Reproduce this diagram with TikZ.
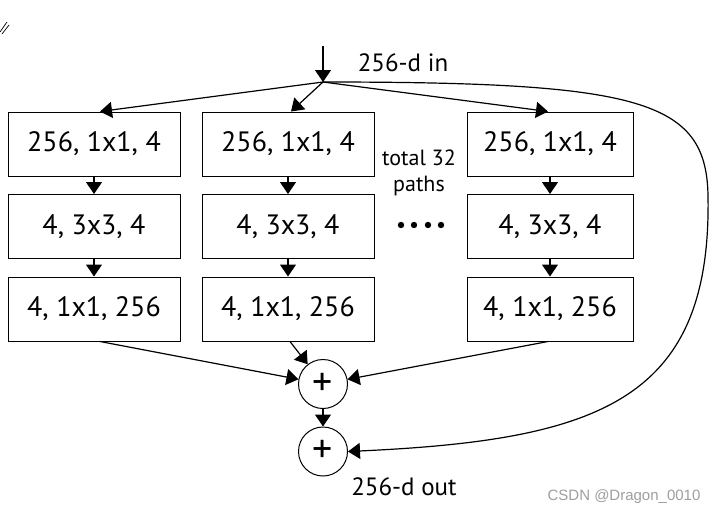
\documentclass[tikz,border=0pt]{standalone}
\usepackage{fontspec}
\setmainfont{PT Sans}
\newfontfamily\wmfont{Liberation Sans}
\usetikzlibrary{arrows.meta}
\begin{document}
\begin{tikzpicture}[x=1pt,y=-1pt,
  line width=1.2pt,
  blk/.style={draw, line width=1pt, minimum width=172pt, minimum height=64pt, inner sep=0pt, font=\fontsize{28}{30}\selectfont},
  blkr/.style={blk, minimum width=166pt},
  sumnode/.style={draw, line width=1pt, circle, minimum size=49pt, inner sep=0pt, font=\fontsize{40}{40}\selectfont},
  arr/.style={-{Triangle[length=12pt,width=16pt]}},
  lbl/.style={inner sep=0pt, font=\fontsize{25}{28}\selectfont},
  wm/.style={inner sep=0pt, text=black!38, font=\wmfont\fontsize{15}{17}\selectfont}]
\useasboundingbox (0,0) rectangle (721,517);
% top-left mark
\draw[line width=0.7pt] (0,32) -- (7,22);
\draw[line width=0.7pt] (2,34) -- (9,25);
% boxes
\node[blk] (l1) at (94,144) {256, 1x1, 4};
\node[blk] (l2) at (94,226.5) {4, 3x3, 4};
\node[blk] (l3) at (94,309) {4, 1x1, 256};
\node[blk] (m1) at (288,144) {256, 1x1, 4};
\node[blk] (m2) at (288,226.5) {4, 3x3, 4};
\node[blk] (m3) at (288,309) {4, 1x1, 256};
\node[blkr] (r1) at (550,144) {256, 1x1, 4};
\node[blkr] (r2) at (550,226.5) {4, 3x3, 4};
\node[blkr] (r3) at (550,309) {4, 1x1, 256};
% sums
\node[sumnode] (p1) at (323,384) {+};
\node[sumnode] (p2) at (323,451.5) {+};
% labels
\node[lbl] (in) at (403,63) {256-d in};
\node[lbl] (out) at (404,487) {256-d out};
\node[lbl, font=\fontsize{22}{25}\selectfont] (tot) at (419,158) {total 32};
\node[lbl, font=\fontsize{22}{25}\selectfont] (pth) at (419,186) {paths};
\node[wm] (wmk) at (624,497) {CSDN @Dragon\_0010};
\foreach \x in {401,414,428,441} \fill (\x,225) circle (3.2);
% input
\coordinate (top) at (323,46);
\coordinate (J) at (323,82);
\draw[arr] (top) -- (J);
\draw[arr] (J) -- ([xshift=6]l1.north);
\draw[arr] (J) -- ([xshift=3]m1.north);
\draw[arr] (J) -- ([xshift=-2]r1.north);
% internal
\foreach \c in {l,m,r}{
  \draw[arr] (\c1) -- (\c2);
  \draw[arr] (\c2) -- (\c3);
}
\draw[arr] ([xshift=6]l3.south) -- (p1);
\draw[arr] ([xshift=2]m3.south) -- (p1);
\draw[arr] ([xshift=-2]r3.south) -- (p1);
\draw[arr] (p1) -- (p2);
% shortcut
\draw[arr] (J) .. controls (640,82) and (706,100) .. (708,195)
  .. controls (712,400) and (600,440) .. (p2.east);
\end{tikzpicture}
\end{document}
